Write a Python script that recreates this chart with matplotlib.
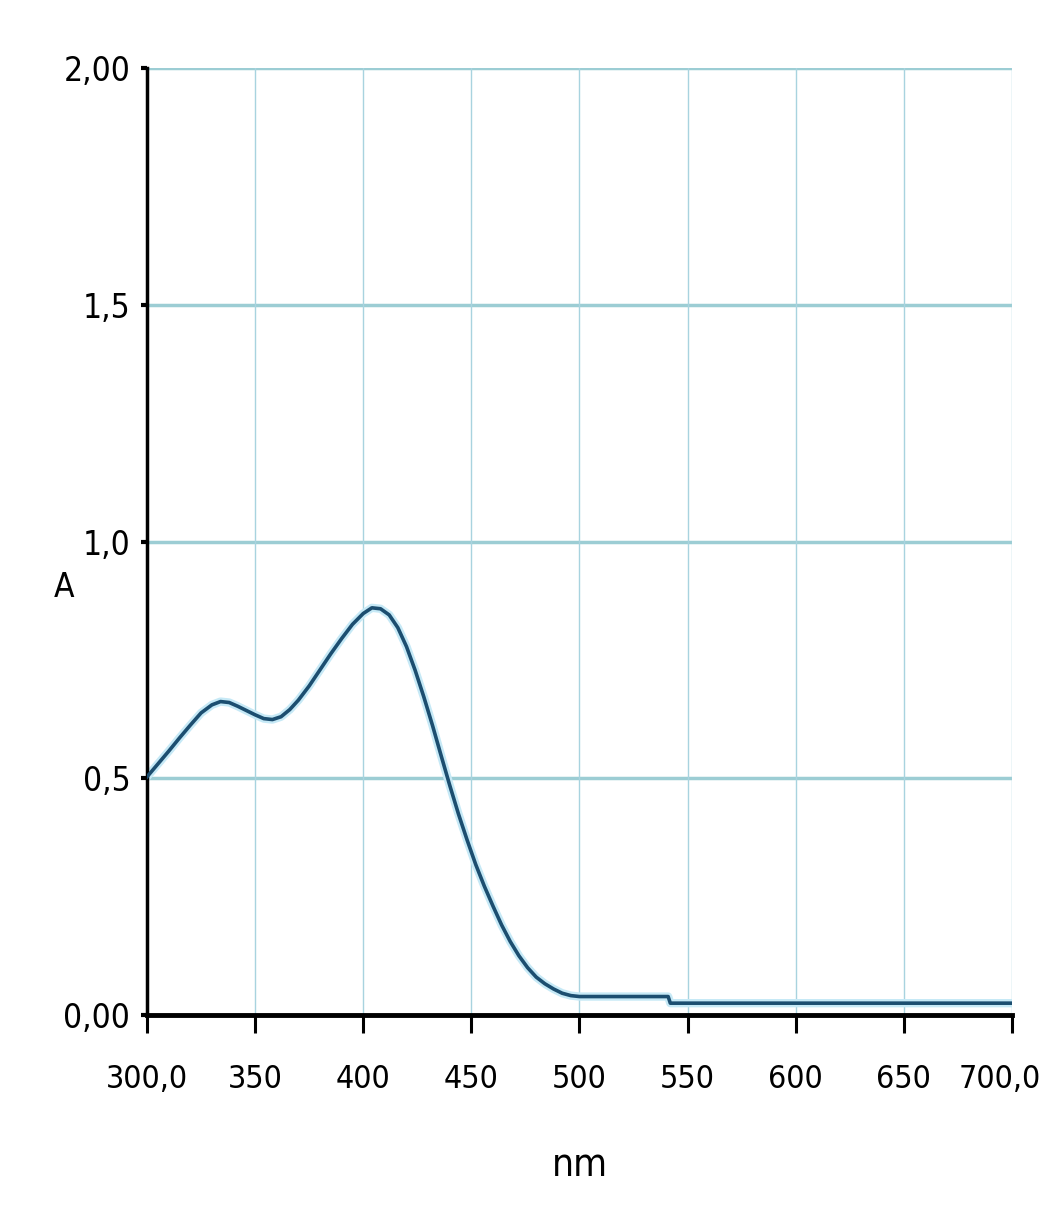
import numpy as np
import matplotlib
matplotlib.use("Agg")
import matplotlib.pyplot as plt
from matplotlib.transforms import ScaledTranslation

# absorption spectrum (nm, A)
wavelength = [300, 305, 310, 315, 320, 325, 330, 334, 338, 342, 346, 350, 354,
              358, 362, 366, 370, 375, 380, 385, 390, 395, 400, 404, 408, 412,
              416, 420, 424, 428, 432, 436, 440, 444, 448, 452, 456, 460, 464,
              468, 472, 476, 480, 484, 488, 492, 496, 500, 541, 542, 700]
absorb = [0.503, 0.530, 0.557, 0.585, 0.612, 0.638, 0.655, 0.662, 0.660, 0.652,
          0.643, 0.634, 0.626, 0.624, 0.630, 0.645, 0.665, 0.695, 0.729, 0.763,
          0.795, 0.825, 0.848, 0.860, 0.858, 0.845, 0.818, 0.778, 0.728, 0.672,
          0.612, 0.548, 0.485, 0.425, 0.370, 0.318, 0.272, 0.230, 0.190, 0.155,
          0.125, 0.100, 0.080, 0.066, 0.055, 0.046, 0.041, 0.039, 0.039, 0.025,
          0.025]

xticks = [300, 350, 400, 450, 500, 550, 600, 650, 700]
xlabels = ["300,0", "350", "400", "450", "500", "550", "600", "650", "700,0"]
yticks = [0.0, 0.5, 1.0, 1.5, 2.0]
ylabels = ["0,00", "0,5", "1,0", "1,5", "2,00"]

plt.rcParams['font.family'] = ['DejaVu Sans']
plt.rcParams['font.stretch'] = 'condensed'

fig = plt.figure(figsize=(10.5, 12.15), dpi=100)
ax = fig.add_axes([0.14, 0.1646, 0.8238, 0.7794])

# grid lines
for y in yticks[1:]:
    ax.axhline(y, color='#9ccdd4', lw=2.5, zorder=1)
for x in xticks[1:]:
    ax.axvline(x, color='#a8d3df', lw=1.0, zorder=1)

# spectrum with its light halo
ax.plot(wavelength, absorb, color='#c6e9f6', lw=6, zorder=2)
ax.plot(wavelength, absorb, color='#1c4e70', lw=2.6, zorder=3)

ax.set_xlim(300, 700)
ax.set_ylim(0, 2.0)

for s in ['top', 'right']:
    ax.spines[s].set_visible(False)
ax.spines['left'].set_linewidth(2.5)
ax.spines['bottom'].set_linewidth(3.5)
ax.spines['bottom'].set_zorder(5)

ax.set_xticks(xticks)
ax.set_xticklabels(xlabels, fontsize=23, fontstretch='condensed')
ax.set_yticks(yticks)
ax.set_yticklabels(ylabels, fontsize=24, fontstretch='condensed')
ax.tick_params(axis='x', direction='out', length=13, width=2.2, pad=22)
ax.tick_params(axis='y', direction='out', length=4, width=3, pad=8)

# keep "700,0" inside the picture
last = ax.xaxis.get_major_ticks()[-1].label1
last.set_transform(last.get_transform() + ScaledTranslation(-9 / 72, 0, fig.dpi_scale_trans))

ax.set_xlabel("nm", fontsize=28, fontstretch='condensed', va='center')
ax.xaxis.set_label_coords(0.5, -0.158)
ax.set_ylabel("A", fontsize=24, rotation=0, fontstretch='condensed', va='center')
ax.yaxis.set_label_coords(-0.096, 0.451)

fig.savefig("out.png", dpi=100)
